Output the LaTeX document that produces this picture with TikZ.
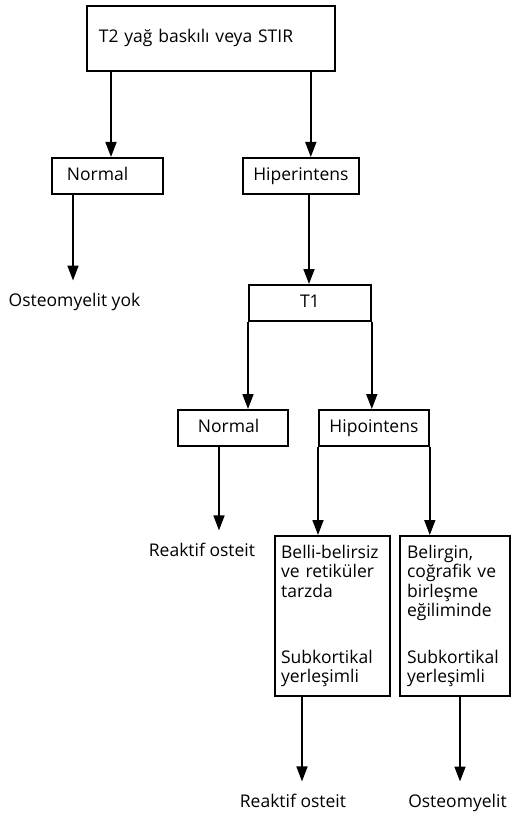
\documentclass[tikz,border=0pt]{standalone}
\usepackage{fontspec}
\setmainfont{Open Sans}
\usetikzlibrary{arrows.meta, positioning}

\begin{document}
\begin{tikzpicture}[x=1pt, y=-1pt,
  every node/.style={font=\fontsize{17.5}{19.5}\selectfont},
  box/.style={draw, line width=1.8pt, anchor=north west, inner ysep=0pt, minimum height=36pt, text height=12.5pt, text depth=4pt},
  tallbox/.style={draw, line width=2.2pt, anchor=north west, inner ysep=0pt, minimum height=160pt, align=left},
  lbl/.style={anchor=base, inner xsep=0pt, inner ysep=12pt},
  arr/.style={-{Triangle[length=15pt, width=11pt]}, line width=1.7pt}]
\useasboundingbox (0,0) rectangle (511,813);
% boxes
\node[box, minimum height=65pt, text width=224pt, inner xsep=12pt, align=left] (stir) at (86,5) {T2 yağ baskılı veya STIR};
\node[box, text width=81pt, inner xsep=15pt, align=left] (normA) at (51,157) {Normal};
\node[box, minimum width=116pt] (hyper) at (242,157) {Hiperintens};
\node[box, minimum width=122pt] (tone) at (248,284) {T1};
\node[box, text width=70pt, inner xsep=20pt, align=left] (normB) at (177,409) {Normal};
\node[box, minimum width=110pt] (hypo) at (318,409) {Hipointens};
\node[tallbox, text width=103pt, inner xsep=6pt] (ret) at (274,535) {Belli-belirsiz\\ve retiküler\\tarzda\\[46.5pt]Subkortikal\\yerleşimli};
\node[tallbox, text width=96pt, inner xsep=7pt] (geo) at (399,535) {Belirgin,\\coğrafik ve\\birleşme\\eğiliminde\\[27pt]Subkortikal\\yerleşimli};
% results
\node[lbl] (noOst) at (74.5,306) {Osteomyelit yok};
\node[lbl] (reakA) at (202,556) {Reaktif osteit};
\node[lbl] (reakB) at (293,807) {Reaktif osteit};
\node[lbl] (osteo) at (457.5,807) {Osteomyelit};
% arrows
\draw[arr] ([xshift=25pt]stir.south west) -- ([xshift=25pt]stir.south west |- normA.north);
\draw[arr] ([xshift=-25pt]stir.south east) -- ([xshift=-25pt]stir.south east |- hyper.north);
\draw[arr] ([xshift=22pt]normA.south west) -- ([xshift=22pt]normA.south west |- noOst.north);
\draw[arr] ([xshift=67pt]hyper.south west) -- ([xshift=67pt]hyper.south west |- tone.north);
\draw[arr] (tone.south west) -- (tone.south west |- normB.north);
\draw[arr] (tone.south east) -- (tone.south east |- hypo.north);
\draw[arr] ([xshift=42pt]normB.south west) -- ([xshift=42pt]normB.south west |- reakA.north);
\draw[arr] (hypo.south west) -- (hypo.south west |- ret.north);
\draw[arr] (hypo.south east) -- (hypo.south east |- geo.north);
\draw[arr] ([xshift=28pt]ret.south west) -- ([xshift=28pt]ret.south west |- reakB.north);
\draw[arr] ([xshift=61pt]geo.south west) -- ([xshift=61pt]geo.south west |- osteo.north);
\end{tikzpicture}
\end{document}
